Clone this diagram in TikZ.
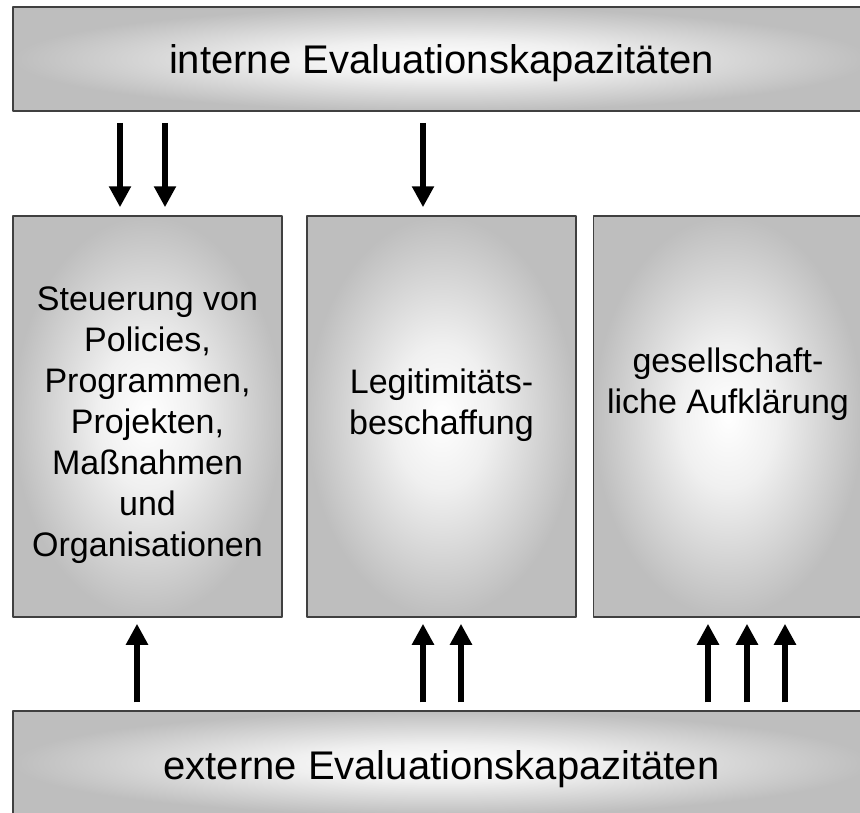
\documentclass[tikz,border=0pt]{standalone}
\usepackage{fontspec}
\setmainfont{Liberation Sans}
\usetikzlibrary{arrows.meta}
\definecolor{boxgray}{RGB}{190,190,190}
\definecolor{boxline}{RGB}{64,64,64}
\pgfdeclareradialshading{glow}{\pgfpoint{0bp}{0bp}}{color(0bp)=(white); color(9bp)=(white!94!black); color(25bp)=(boxgray); color(50bp)=(boxgray)}
\begin{document}
\begin{tikzpicture}[x=1pt, y=-1pt, line join=round,
  box/.style={draw=boxline, line width=1.5pt, shading=glow, inner sep=0pt},
  wide/.style={box, minimum width=857pt, minimum height=104pt},
  tall/.style={box, minimum width=269pt, minimum height=401pt},
  widetxt/.style={font=\fontsize{40}{48}\selectfont},
  txt/.style={align=center, font=\fontsize{34}{41}\selectfont},
  arr/.style={line width=6pt, -{Triangle[width=21pt,length=21pt]}}]
\useasboundingbox (0,0) rectangle (860,812);
\clip (0,0) rectangle (860,812);
\node[wide] (intern) at (441.5,59) {};
\node[wide] (extern) at (441.5,763) {};
\node[tall] (steuer) at (147.5,416.5) {};
\node[tall] (legit) at (441.5,416.5) {};
\node[tall] (aufkl) at (728,416.5) {};
\node[widetxt] (interntxt) at ([yshift=-4pt]intern.center) {interne Evaluationskapazitäten};
\node[widetxt] (externtxt) at ([yshift=-6pt]extern.center) {externe Evaluationskapazitäten};
\node[txt] (steuertxt) at ([yshift=-8.5pt]steuer.center) {Steuerung von\\Policies,\\Programmen,\\Projekten,\\Maßnahmen\\und\\Organisationen};
\node[txt] (legittxt) at ([yshift=11pt]legit.center) {Legitimitäts-\\beschaffung};
\node[txt] (aufkltxt) at ([yshift=32.5pt]aufkl.center) {gesellschaft-\\liche Aufklärung};
\path (120,0) coordinate (d1) (165,0) coordinate (d2) (423,0) coordinate (d3)
  (137,0) coordinate (u1) (423,0) coordinate (u2) (461,0) coordinate (u3)
  (708,0) coordinate (u4) (747,0) coordinate (u5) (785,0) coordinate (u6);
\foreach \c/\n in {d1/steuer,d2/steuer,d3/legit}
  \draw[arr, shorten <=11pt, shorten >=8pt] (intern.south -| \c) -- (\n.north -| \c);
\foreach \c/\n in {u1/steuer,u2/legit,u3/legit,u4/aufkl,u5/aufkl,u6/aufkl}
  \draw[arr, shorten <=8pt, shorten >=6pt] (extern.north -| \c) -- (\n.south -| \c);
\end{tikzpicture}
\end{document}
